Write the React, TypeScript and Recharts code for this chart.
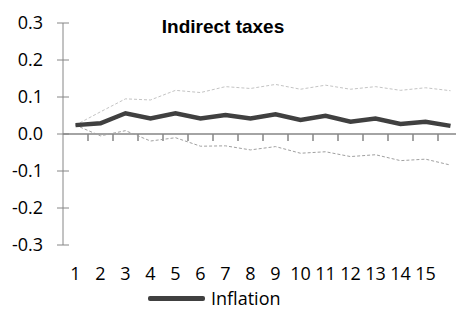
import React from "react";
import {
  LineChart,
  Line,
  XAxis,
  YAxis,
  Legend,
  ReferenceLine,
} from "recharts";

// horizon 1..16 (only 1..15 labelled)
const periods = [1, 2, 3, 4, 5, 6, 7, 8, 9, 10, 11, 12, 13, 14, 15, 16];
const inflation = [
  0.024, 0.029, 0.056, 0.042, 0.056, 0.042, 0.051, 0.042, 0.053, 0.038, 0.049,
  0.033, 0.042, 0.027, 0.033, 0.022,
];
const upperBand = [
  0.024, 0.06, 0.095, 0.092, 0.118, 0.112, 0.128, 0.123, 0.134, 0.121, 0.132,
  0.121, 0.128, 0.118, 0.125, 0.117,
];
const lowerBand = [
  0.024, -0.005, 0.009, -0.019, -0.01, -0.033, -0.032, -0.043, -0.034, -0.052,
  -0.048, -0.061, -0.056, -0.072, -0.068, -0.084,
];
const xTicks = [1, 2, 3, 4, 5, 6, 7, 8, 9, 10, 11, 12, 13, 14, 15];
const yTicks = [-0.3, -0.2, -0.1, 0, 0.1, 0.2, 0.3];
const catEdges = [1.5, 2.5, 3.5, 4.5, 5.5, 6.5, 7.5, 8.5, 9.5, 10.5, 11.5, 12.5, 13.5, 14.5, 15.5];

const data = periods.map((p, i) => ({
  period: p,
  inflation: inflation[i],
  upper: upperBand[i],
  lower: lowerBand[i],
}));

const axisColor = "#868686";
const font = "'Open Sans', sans-serif";

const YTick = ({ x, y, payload }: any) => (
  <g>
    <line x1={x - 6} x2={x + 6} y1={y} y2={y} stroke={axisColor} strokeWidth={1} />
    <text
      x={x - 20}
      y={y}
      dy={6}
      textAnchor="end"
      fontSize={18}
      fontFamily={font}
      fill="#000"
    >
      {payload.value.toFixed(1)}
    </text>
  </g>
);

const LegendContent = ({ payload }: any) => (
  <div style={{ display: "flex", alignItems: "center", fontFamily: font }}>
    {(payload || [])
      .filter((p: any) => p.type !== "none" && p.dataKey === "inflation")
      .map((p: any) => (
        <div key={p.value} style={{ display: "flex", alignItems: "center" }}>
          <span
            style={{
              display: "inline-block",
              width: 57,
              height: 5,
              borderRadius: 2,
              background: p.color,
              marginRight: 6,
            }}
          />
          <span style={{ fontSize: 18, color: "#000" }}>{p.value}</span>
        </div>
      ))}
  </div>
);

export default function App() {
  return (
    <div
      style={{
        position: "absolute",
        left: 0,
        top: 0,
        width: 456,
        height: 309,
        overflow: "hidden",
        background: "#fff",
      }}
    >
      <div
        style={{
          position: "absolute",
          left: 0,
          top: 17,
          width: 446,
          textAlign: "center",
          fontFamily: "'Liberation Sans', Arial, sans-serif",
          fontWeight: "bold",
          fontSize: 19,
          lineHeight: 1,
          zIndex: 2,
        }}
      >
        Indirect taxes
      </div>
      <LineChart
        width={470}
        height={309}
        data={data}
        margin={{ top: 23, right: 7, left: 0, bottom: 0 }}
      >
        <XAxis
          dataKey="period"
          type="number"
          domain={[0.5, 16.5]}
          ticks={xTicks}
          interval={0}
          axisLine={false}
          tickLine={false}
          tickSize={0}
          tickMargin={22}
          height={40}
          tick={{ fontSize: 18, fontFamily: font, fill: "#000" }}
        />
        <YAxis
          domain={[-0.3, 0.3]}
          ticks={yTicks}
          width={63}
          axisLine={{ stroke: axisColor }}
          tickLine={false}
          tickSize={0}
          tickMargin={0}
          tick={<YTick />}
        />
        <ReferenceLine y={0} stroke={axisColor} strokeWidth={1.5} />
        {catEdges.map((e) => (
          <ReferenceLine
            key={e}
            segment={[
              { x: e, y: 0 },
              { x: e, y: -0.019 },
            ]}
            stroke={axisColor}
            strokeWidth={1.5}
          />
        ))}
        <Line
          dataKey="upper"
          stroke="#c4c4c4"
          strokeWidth={1}
          strokeDasharray="3 2"
          dot={false}
          legendType="none"
          isAnimationActive={false}
        />
        <Line
          dataKey="lower"
          stroke="#a0a0a0"
          strokeWidth={1}
          strokeDasharray="3 2"
          dot={false}
          legendType="none"
          isAnimationActive={false}
        />
        <Line
          dataKey="inflation"
          name="Inflation"
          stroke="#404040"
          strokeWidth={4.5}
          dot={false}
          isAnimationActive={false}
        />
        <Legend
          content={<LegendContent />}
          wrapperStyle={{ position: "absolute", left: 148, top: 286, width: "auto" }}
        />
      </LineChart>
    </div>
  );
}
